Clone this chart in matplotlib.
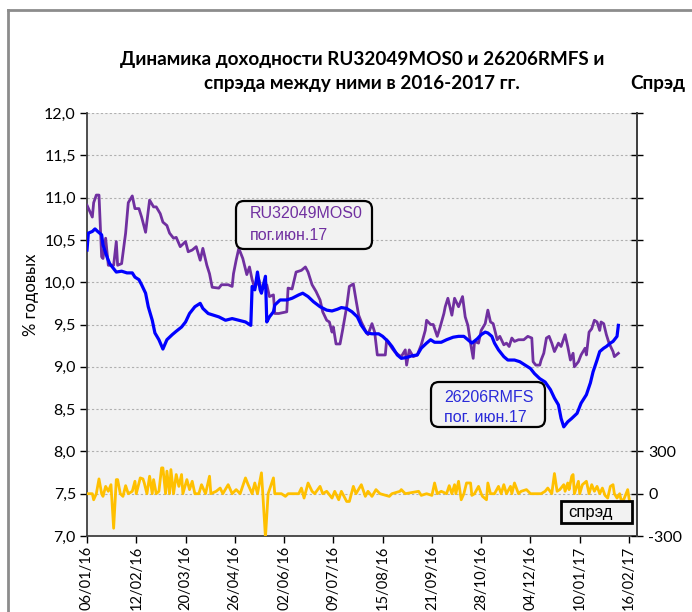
import numpy as np
import pandas as pd
import matplotlib
matplotlib.use("Agg")
import matplotlib.pyplot as plt
import matplotlib.dates as mdates
from matplotlib.patches import FancyBboxPatch, Rectangle
from matplotlib.lines import Line2D
from matplotlib.ticker import FuncFormatter, FixedLocator

# ---------------- data ----------------
start_date = "2016-01-06"
x_end_days = 413
tick_step_days = 37

# RU32049MOS0 (purple), day offsets from start_date and yields, %
ru_days = [0, 4, 5, 7, 9, 11, 12, 14, 16, 20, 22, 23, 26, 29, 31, 34, 36, 39, 41, 44,
           47, 50, 52, 55, 57, 60, 62, 65, 67, 70, 74, 76, 79, 82, 85, 87, 90, 92, 94, 99,
           101, 106, 109, 110, 112, 114, 117, 120, 122, 124, 126, 129, 131, 135, 137, 140, 141, 144, 150, 151,
           154, 157, 161, 164, 166, 169, 172, 175, 177, 180, 182, 184, 185, 187, 190, 192, 195, 197, 200, 202,
           204, 206, 209, 211, 214, 216, 218, 224, 225, 227, 229, 231, 234, 236, 239, 240, 242, 245, 248, 251,
           254, 255, 258, 260, 263, 265, 268, 269, 271, 274, 276, 279, 282, 284, 286, 288, 290, 291, 294, 296,
           299, 301, 303, 305, 308, 310, 313, 315, 317, 319, 321, 324, 328, 331, 334, 335, 337, 340, 341, 343,
           345, 347, 349, 351, 354, 356, 359, 361, 363, 365, 366, 369, 371, 374, 375, 377, 379, 381, 383, 385,
           386, 388, 390, 392, 395, 396, 399]
ru_vals = [10.91, 10.77, 10.94, 11.03, 11.03, 10.30, 10.28, 10.52, 10.20, 10.20, 10.48, 10.20, 10.22, 10.58, 10.94, 11.02, 10.87, 10.87, 10.77, 10.59,
           10.97, 10.89, 10.89, 10.81, 10.71, 10.67, 10.58, 10.52, 10.53, 10.42, 10.48, 10.36, 10.38, 10.42, 10.26, 10.40, 10.20, 10.10, 9.94, 9.93,
           9.97, 9.97, 9.95, 10.10, 10.26, 10.40, 10.28, 10.09, 10.18, 10.03, 9.93, 10.03, 9.91, 9.97, 9.83, 9.85, 9.63, 9.63, 9.65, 9.93,
           9.92, 10.12, 10.14, 10.18, 10.12, 9.97, 9.89, 9.79, 9.65, 9.55, 9.53, 9.41, 9.47, 9.27, 9.27, 9.44, 9.71, 9.95, 9.98, 9.79,
           9.61, 9.53, 9.43, 9.38, 9.51, 9.41, 9.14, 9.14, 9.32, 9.27, 9.22, 9.18, 9.14, 9.12, 9.20, 9.02, 9.20, 9.12, 9.14, 9.26,
           9.43, 9.55, 9.50, 9.50, 9.36, 9.46, 9.63, 9.71, 9.81, 9.61, 9.81, 9.71, 9.83, 9.59, 9.49, 9.28, 9.10, 9.30, 9.28, 9.43,
           9.51, 9.67, 9.53, 9.51, 9.32, 9.36, 9.26, 9.28, 9.24, 9.34, 9.30, 9.32, 9.32, 9.36, 9.34, 9.06, 9.02, 9.02, 9.08, 9.16,
           9.34, 9.36, 9.28, 9.18, 9.28, 9.24, 9.38, 9.24, 9.08, 9.16, 9.00, 9.06, 9.14, 9.22, 9.14, 9.41, 9.45, 9.55, 9.53, 9.43,
           9.53, 9.51, 9.38, 9.28, 9.18, 9.12, 9.16]

# 26206RMFS (blue)
ofz_days = [0, 1, 4, 6, 8, 11, 12, 15, 17, 20, 22, 26, 30, 34, 36, 39, 41, 44, 46, 49,
            51, 54, 57, 60, 64, 67, 71, 74, 77, 81, 85, 87, 91, 95, 99, 104, 109, 114, 119, 123,
            124, 126, 128, 130, 131, 134, 135, 137, 140, 141, 145, 150, 154, 159, 162, 166, 170, 175, 180, 184,
            188, 191, 195, 199, 203, 206, 210, 214, 219, 222, 226, 229, 233, 236, 240, 244, 248, 251, 255, 258,
            261, 266, 270, 275, 279, 283, 286, 289, 293, 296, 299, 301, 304, 306, 309, 313, 316, 321, 325, 329,
            333, 336, 340, 344, 348, 351, 354, 356, 358, 361, 364, 368, 371, 375, 378, 380, 383, 385, 388, 390,
            393, 395, 398, 399]
ofz_vals = [10.38, 10.58, 10.60, 10.63, 10.60, 10.56, 10.44, 10.30, 10.22, 10.16, 10.12, 10.13, 10.11, 10.11, 10.06, 10.03, 9.97, 9.87, 9.71, 9.55,
            9.40, 9.32, 9.21, 9.32, 9.38, 9.42, 9.47, 9.53, 9.63, 9.71, 9.75, 9.69, 9.63, 9.61, 9.59, 9.55, 9.57, 9.55, 9.53, 9.49,
            9.95, 9.91, 10.12, 9.91, 9.87, 10.07, 9.53, 9.59, 9.65, 9.73, 9.79, 9.79, 9.81, 9.85, 9.87, 9.83, 9.77, 9.71, 9.67, 9.66,
            9.68, 9.70, 9.69, 9.65, 9.59, 9.49, 9.40, 9.39, 9.39, 9.36, 9.30, 9.24, 9.14, 9.10, 9.11, 9.13, 9.14, 9.22, 9.28, 9.32,
            9.29, 9.29, 9.32, 9.35, 9.36, 9.36, 9.32, 9.28, 9.33, 9.38, 9.41, 9.40, 9.36, 9.28, 9.20, 9.12, 9.08, 9.08, 9.06, 9.02,
            8.98, 8.92, 8.86, 8.82, 8.73, 8.63, 8.55, 8.39, 8.29, 8.35, 8.39, 8.45, 8.57, 8.67, 8.81, 8.94, 9.08, 9.18, 9.22, 9.24,
            9.28, 9.30, 9.36, 9.49]

# spread series (bp, right axis)
spr_days = [0, 4, 5, 7, 9, 11, 12, 14, 16, 18, 20, 22, 23, 25, 27, 29, 31, 34, 36, 37,
            40, 42, 43, 45, 47, 49, 50, 52, 54, 56, 57, 59, 60, 62, 63, 65, 67, 69, 71, 72,
            75, 77, 79, 81, 84, 86, 89, 92, 93, 97, 100, 102, 106, 109, 112, 115, 119, 121, 124, 126,
            128, 131, 132, 134, 136, 140, 141, 146, 149, 151, 159, 161, 163, 166, 169, 171, 175, 177, 180, 184,
            186, 189, 191, 195, 197, 200, 202, 206, 209, 211, 214, 217, 220, 227, 229, 235, 236, 239, 249, 251,
            255, 259, 261, 263, 266, 270, 272, 274, 276, 277, 279, 281, 283, 285, 288, 289, 291, 294, 296, 297,
            300, 301, 303, 306, 309, 311, 313, 315, 318, 319, 321, 324, 326, 330, 333, 341, 344, 346, 349, 351,
            353, 355, 358, 359, 361, 362, 364, 365, 366, 369, 370, 372, 375, 377, 379, 381, 383, 385, 387, 389,
            391, 393, 395, 396, 398, 400, 401, 403, 406, 408]
spr_vals = [0, 0, -43, 0, 105, 0, -19, 52, 17, 64, -245, 100, 100, 0, -19, 57, 0, 17, 88, 0,
            112, 105, 76, 0, 124, 0, 100, 0, 17, 183, 183, 0, 160, 0, 171, 0, 136, 52, 136, 0,
            100, 29, 88, 0, 0, 64, 0, 124, 0, 17, 40, 0, 64, 0, 29, 0, 112, 64, 0, 76,
            0, 148, 0, -310, 0, 112, 0, 0, -19, 0, 0, 40, -31, 76, 17, 0, 52, 0, 17, -31,
            17, -43, 17, -55, -55, 52, 0, 64, -19, 17, -19, 29, 0, -19, 0, 17, 29, 0, 17, -12,
            0, -12, 76, 0, 17, 0, 57, 0, 64, 0, 88, -43, 0, 76, 76, -12, 0, 52, 0, -19,
            -43, 76, 0, 0, 52, 0, 64, 0, 52, 0, 76, 0, 17, 29, 0, 0, 17, 40, 0, 143,
            17, 29, 64, 17, 76, 29, 124, 136, 0, 88, 0, 64, 88, 0, 64, 17, 52, 0, 40, -12,
            -31, 52, 64, 0, -31, 0, -43, -43, 29, -90]

left_ticks = [7.0, 7.5, 8.0, 8.5, 9.0, 9.5, 10.0, 10.5, 11.0, 11.5, 12.0]
right_ticks = [-300, 0, 300, 600, 900, 1200, 1500, 1800, 2100, 2400, 2700]
right_labels = ["-300", "0", "300", "", "", "", "", "", "", "", ""]

title_text = "Динамика доходности RU32049MOS0 и 26206RMFS и\nспрэда между ними в 2016-2017 гг."
right_title = "Спрэд"
ylabel_text = "% годовых"
ru_label = ["RU32049MOS0", "пог.июн.17"]
ofz_label = ["26206RMFS", "пог. июн.17"]
spr_label = "спрэд"

# ---------------- plot ----------------
W, H = 692, 612
plt.rcParams['font.family'] = ['Lato', 'DejaVu Sans']
fig = plt.figure(figsize=(W / 100, H / 100), dpi=100)
fig.patch.set_facecolor('white')

def fx(px):
    return px / W

def fy(py):
    return 1 - py / H

# outer chart frame
fig.add_artist(Line2D([fx(8), fx(8)], [fy(10), fy(640)], color='#8c8c8c', lw=2))
fig.add_artist(Line2D([fx(8), fx(700)], [fy(10), fy(10)], color='#8c8c8c', lw=2))

ax = fig.add_axes([fx(87), fy(536), fx(637) - fx(87), fy(113) - fy(536)])
ax.set_facecolor('#f2f2f2')

t0 = pd.Timestamp(start_date)
ru_dates = t0 + pd.to_timedelta(ru_days, unit='D')
ofz_dates = t0 + pd.to_timedelta(ofz_days, unit='D')
spr_dates = t0 + pd.to_timedelta(spr_days, unit='D')

ax.plot(ru_dates, ru_vals, color='#7030a0', lw=2.0, zorder=3, solid_joinstyle='round')
ax.plot(ofz_dates, ofz_vals, color='#0000ff', lw=2.3, zorder=4, solid_joinstyle='round')

ax.set_ylim(7, 12)
ax.set_xlim(t0, t0 + pd.Timedelta(days=x_end_days))
ax.yaxis.set_major_locator(FixedLocator(left_ticks))
ax.yaxis.set_major_formatter(FuncFormatter(lambda v, p: f"{v:.1f}".replace('.', ',')))
ax.grid(axis='y', color='#b0b0b0', ls=(0, (2, 2)), lw=0.8)
ax.set_axisbelow(True)

xt = [t0 + pd.Timedelta(days=tick_step_days * i) for i in range(12)]
ax.set_xticks(xt)
ax.xaxis.set_major_formatter(mdates.DateFormatter('%d/%m/%y'))
for lab in ax.get_xticklabels():
    lab.set_rotation(90)
ax.tick_params(axis='x', direction='out', length=5, width=1, labelsize=10.5, pad=2)
ax.tick_params(axis='y', direction='out', length=5, width=1, labelsize=11.5, pad=3)

for s in ['top']:
    ax.spines[s].set_visible(False)
for s in ['left', 'bottom', 'right']:
    ax.spines[s].set_color('#404040')
    ax.spines[s].set_linewidth(1.3)

ax2 = ax.twinx()
ax2.plot(spr_dates, spr_vals, color='#ffc000', lw=2.0, zorder=2, solid_joinstyle='round')
ax2.set_ylim(-300, 2700)
ax2.yaxis.set_major_locator(FixedLocator(right_ticks))
ax2.set_yticklabels(right_labels)
ax2.tick_params(axis='y', direction='inout', length=8, width=1, labelsize=11.5, pad=4)
ax2.spines['top'].set_visible(False)
ax2.spines['right'].set_color('#404040')
ax2.spines['right'].set_linewidth(1.3)
ax2.spines['left'].set_visible(False)
ax2.spines['bottom'].set_visible(False)

# titles
fig.text(fx(362), fy(71), title_text, ha='center', va='center', fontsize=13.6,
         fontweight='bold', linespacing=1.5)
fig.text(fx(658), fy(83), right_title, ha='center', va='center', fontsize=13.6, fontweight='bold')
fig.text(fx(31), fy(295), ylabel_text, ha='center', va='center', rotation=90, fontsize=12)

# label boxes (pixel coordinates -> inches)
def box(x0, y0, x1, y1, rounded=True, lw=1.6):
    style = 'round,pad=0,rounding_size=0.08' if rounded else 'square,pad=0'
    p = FancyBboxPatch((x0 / 100, (H - y1) / 100), (x1 - x0) / 100, (y1 - y0) / 100,
                       boxstyle=style, transform=fig.dpi_scale_trans,
                       fc='#f2f2f2', ec='black', lw=lw, zorder=10)
    fig.add_artist(p)

def txt(x, y, s, color, size=11):
    fig.text(x / 100, (H - y) / 100, s, transform=fig.dpi_scale_trans, color=color,
             fontsize=size, ha='left', va='center', family=['Liberation Sans', 'DejaVu Sans'],
             zorder=11)

box(236, 201, 372, 249)
txt(250, 214, ru_label[0], '#7030a0', 11.5)
txt(250, 236, ru_label[1], '#7030a0', 11.5)

box(431, 382, 545, 427)
txt(444, 397, ofz_label[0], '#2b2bd9', 11.5)
txt(444, 418, ofz_label[1], '#2b2bd9', 11.5)

box(561, 501, 632, 523, rounded=False, lw=2)
txt(568, 513, spr_label, 'black', 12)

fig.savefig('out.png', dpi=100)
